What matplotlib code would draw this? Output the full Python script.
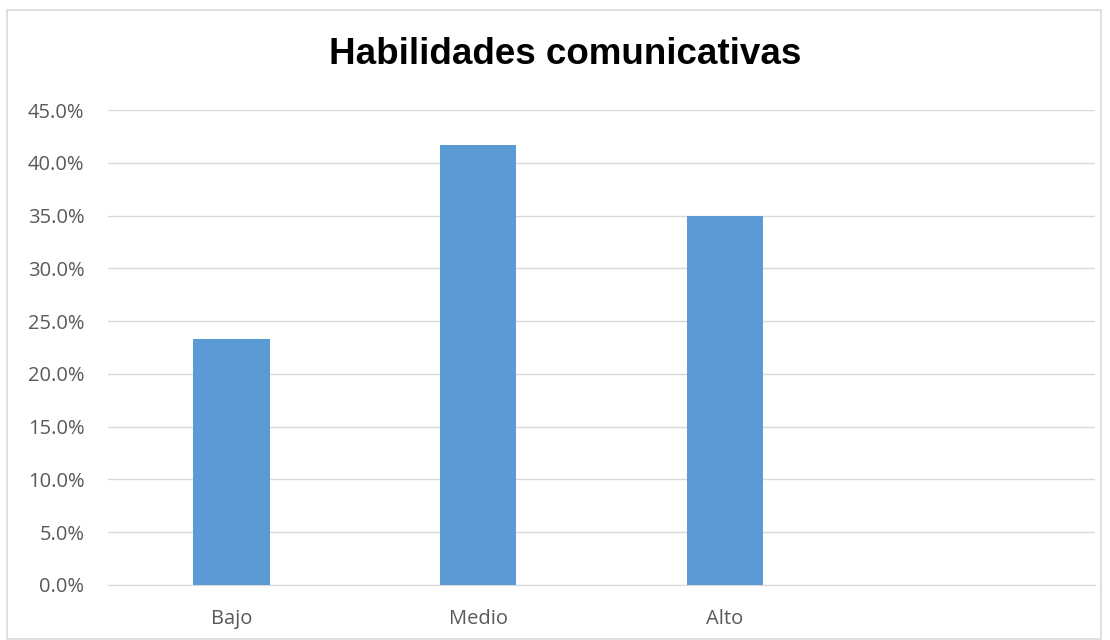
import matplotlib.pyplot as plt
import matplotlib.patches as mpatches
import numpy as np
from matplotlib.ticker import FuncFormatter

categories = ['Bajo', 'Medio', 'Alto']
values = [23.3, 41.7, 35.0]
n_slots = 4  # the chart keeps an empty fourth slot on the right

plt.rcParams['font.family'] = ['Open Sans', 'DejaVu Sans']

fig = plt.figure(figsize=(11.1, 6.4), dpi=100)
ax = fig.add_axes([108 / 1110, 1 - 585 / 640, (1095 - 108) / 1110, (585 - 110) / 640])

x = np.arange(len(categories))
ax.bar(x, values, width=0.31, color='#5B9BD5', zorder=3)

ax.set_xlim(-0.5, n_slots - 0.5)
ax.set_ylim(0, 45)
ax.set_yticks(np.arange(0, 45.1, 5))
ax.yaxis.set_major_formatter(FuncFormatter(lambda v, p: '{:.1f}%'.format(v)))
ax.set_xticks(x)
ax.set_xticklabels(categories)

ax.grid(axis='y', color='#D9D9D9', linewidth=1, zorder=0)
for s in ['top', 'right', 'left']:
    ax.spines[s].set_visible(False)
ax.spines['bottom'].set_color('#D9D9D9')
ax.tick_params(axis='both', length=0, labelsize=14.5, colors='#595959')
ax.tick_params(axis='y', pad=17)
ax.tick_params(axis='x', pad=17)

fig.text(565 / 1110, 1 - 55 / 640, 'Habilidades comunicativas', ha='center', va='center',
         fontsize=26.5, fontweight='bold', color='black', family='Liberation Sans')

# light outer frame of the chart area
fig.patches.append(mpatches.Rectangle((7 / 1110, 1 / 640), 1094 / 1110, 629 / 640,
                                      transform=fig.transFigure, fill=False,
                                      edgecolor='#D9D9D9', linewidth=1.2))

plt.savefig('out.png', dpi=100)
